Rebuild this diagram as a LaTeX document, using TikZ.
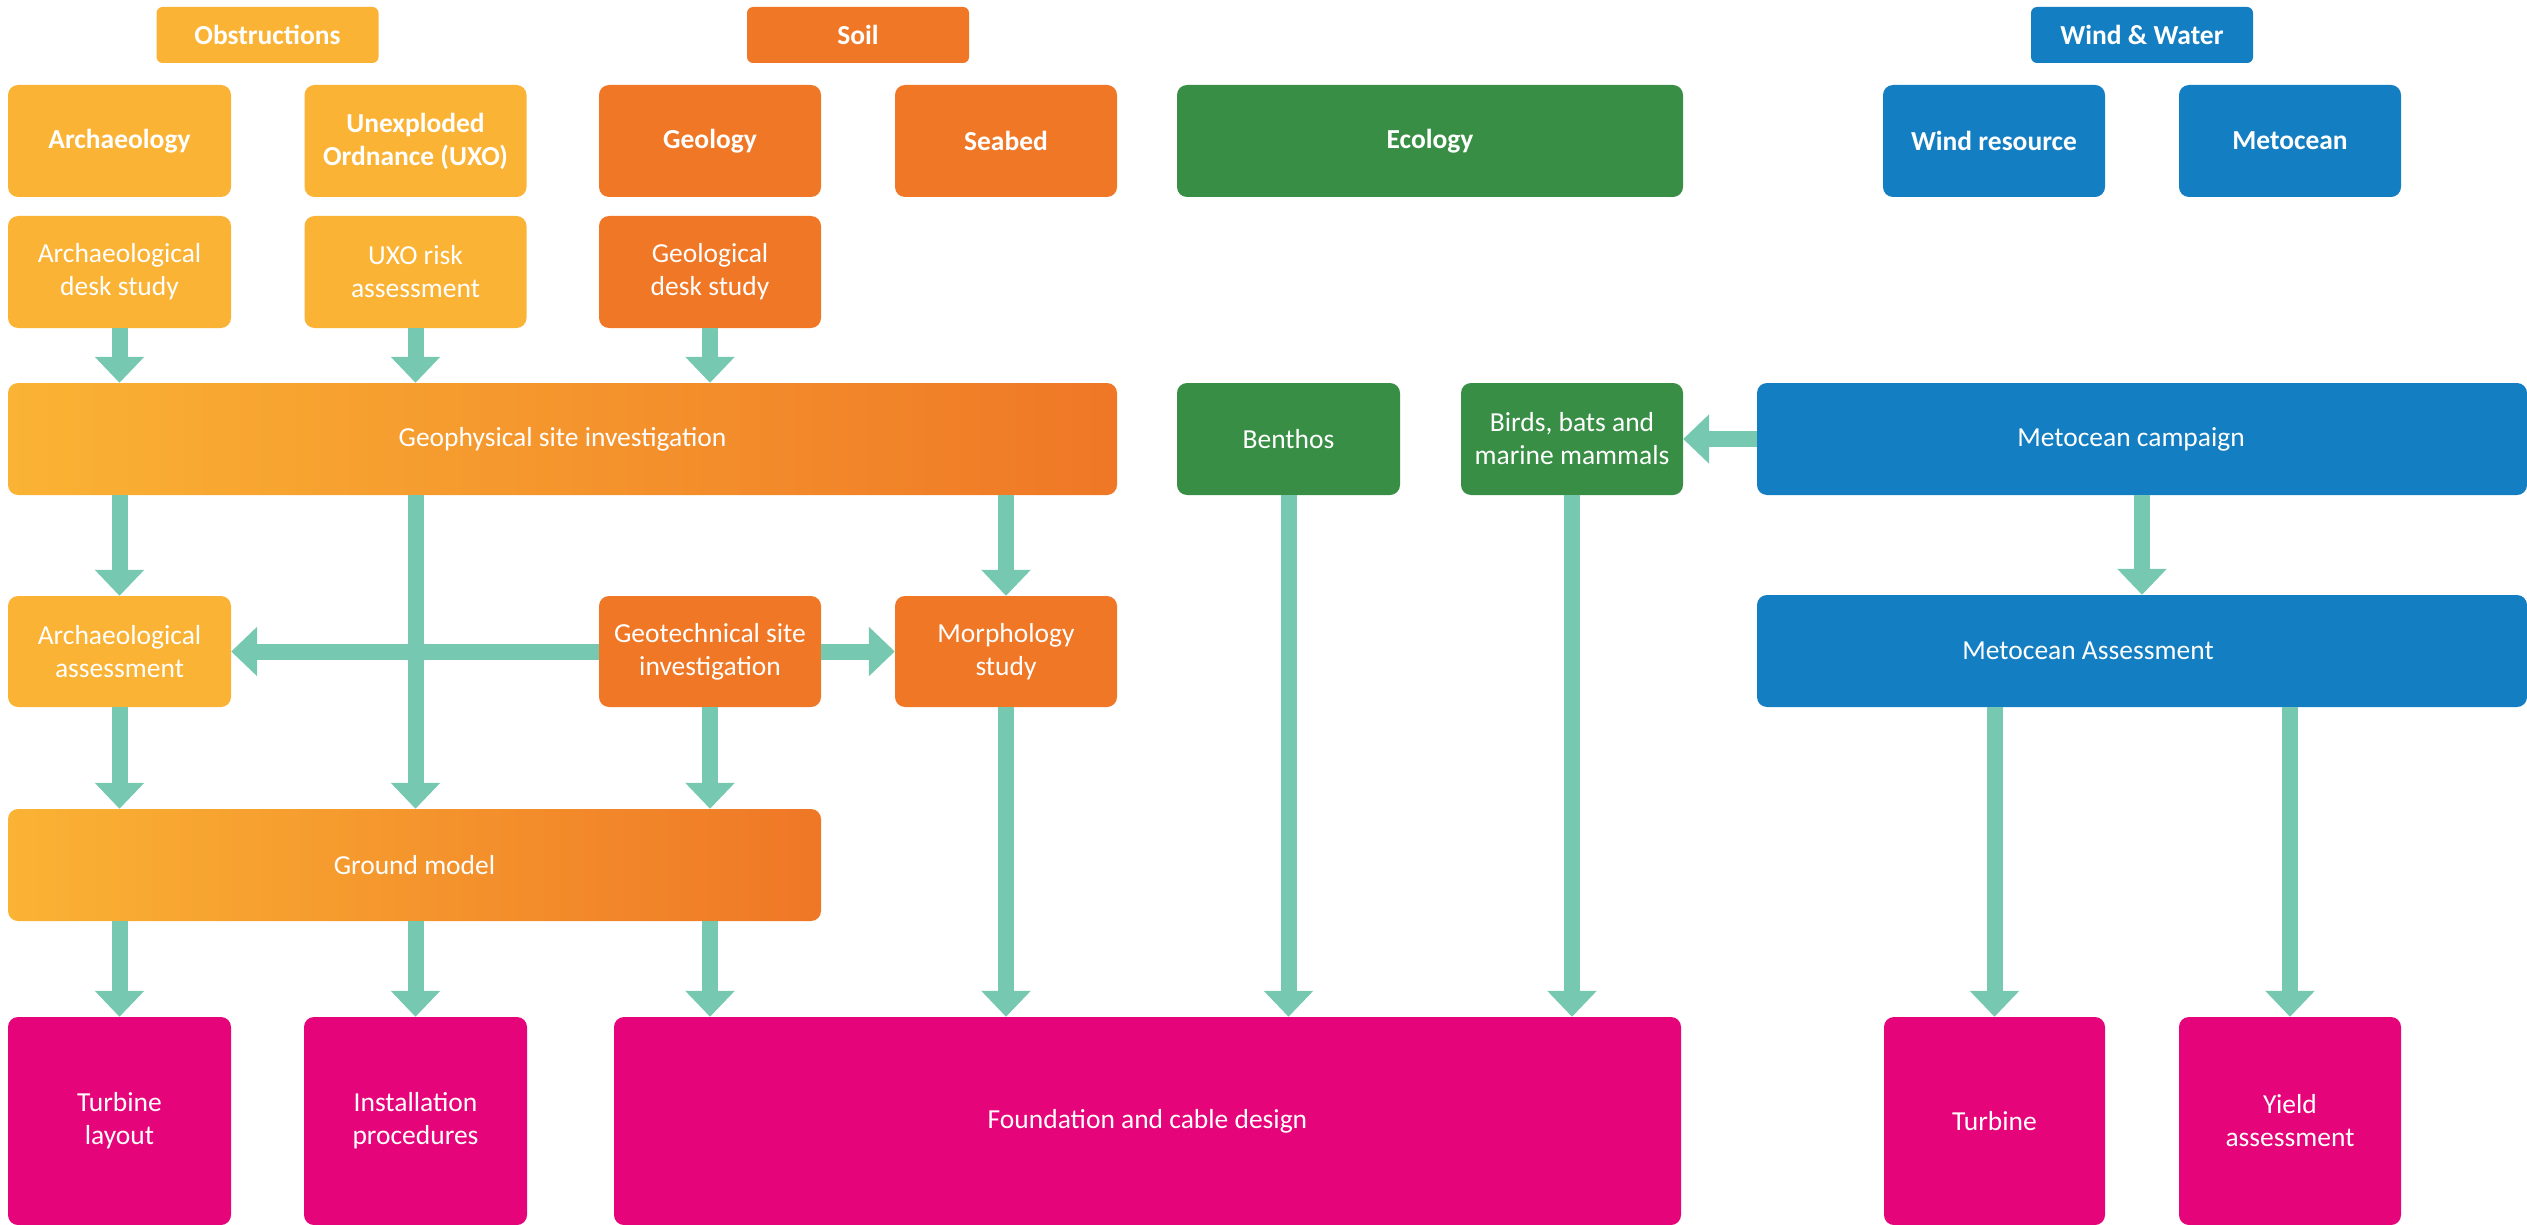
\documentclass[tikz,border=0pt]{standalone}
\usepackage{fontspec}
\setmainfont{Carlito}
\usetikzlibrary{arrows.meta}
\definecolor{ylw}{HTML}{FAB334}
\definecolor{org}{HTML}{EF7726}
\definecolor{grn}{HTML}{398E45}
\definecolor{blu}{HTML}{137EC1}
\definecolor{mag}{HTML}{E5047A}
\definecolor{arr}{HTML}{76C9B0}
\tikzset{
  box/.style={rounded corners=10pt, text=white, align=center, inner sep=0pt,
    font=\fontsize{27.5}{33}\selectfont},
  hbox/.style={box, font=\fontsize{27.5}{33}\selectfont\bfseries},
  cat/.style={hbox, rounded corners=6pt, minimum width=222pt, minimum height=56pt},
  txt/.style={text=white, align=center, inner sep=0pt, font=\fontsize{27.5}{33}\selectfont},
  yb/.style={fill=ylw}, ob/.style={fill=org}, gb/.style={fill=grn},
  bb/.style={fill=blu}, mb/.style={fill=mag},
  grad/.style={left color=ylw, right color=org},
  sz/.style n args={2}{minimum width=#1pt, minimum height=#2pt},
  flow/.style={draw=arr, line width=16pt, -{Triangle[width=48pt,length=26pt]}}
}
\begin{document}
\begin{tikzpicture}[x=1pt,y=-1pt]
\useasboundingbox (0,0) rectangle (2527,1225);
% category headers
\node[cat, yb] (obs) at (267.5,35) {Obstructions};
\node[cat, ob] (soil) at (858,35) {Soil};
\node[cat, bb] (ww) at (2142,35) {Wind \& Water};
% topics
\node[hbox, yb, sz={223}{112}] (arch) at (119.5,141) {Archaeology};
\node[hbox, yb, sz={222}{112}] (uxo) at (415.5,141) {Unexploded\\Ordnance (UXO)};
\node[hbox, ob, sz={222}{112}] (geol) at (710,141) {Geology};
\node[hbox, ob, sz={222}{112}] (seabed) at (1006,141) {Seabed};
\node[hbox, gb, sz={506}{112}] (ecol) at (1430,141) {Ecology};
\node[hbox, bb, sz={222}{112}] (windres) at (1994,141) {Wind resource};
\node[hbox, bb, sz={222}{112}] (metoc) at (2290,141) {Metocean};
% desk studies
\node[box, yb, sz={223}{112}] (ads) at (119.5,272) {Archaeological\\desk study};
\node[box, yb, sz={222}{112}] (uxora) at (415.5,272) {UXO risk\\assessment};
\node[box, ob, sz={222}{112}] (gds) at (710,272) {Geological\\desk study};
% investigations
\node[box, grad, sz={1109}{112}] (geophys) at (562.5,439) {Geophysical site investigation};
\node[box, gb, sz={223}{112}] (benthos) at (1288.5,439) {Benthos};
\node[box, gb, sz={222}{112}] (birds) at (1572,439) {Birds, bats and\\marine mammals};
\node[box, bb, sz={770}{112}] (campaign) at (2142,439) {};
\node[txt] (campaigntxt) at (2131,439) {Metocean campaign};
% assessments
\node[box, yb, sz={223}{111}] (archass) at (119.5,651.5) {Archaeological\\assessment};
\node[box, ob, sz={222}{111}] (geotech) at (710,651.5) {Geotechnical site\\investigation};
\node[box, ob, sz={222}{111}] (morph) at (1006,651.5) {Morphology\\study};
\node[box, bb, sz={770}{112}] (assess) at (2142,651) {};
\node[txt] (assesstxt) at (2088,651) {Metocean Assessment};
% ground model
\node[box, grad, sz={813}{112}] (ground) at (414.5,865) {Ground model};
% outcomes
\node[box, mb, sz={223}{208}] (turbl) at (119.5,1121) {Turbine\\layout};
\node[box, mb, sz={223}{208}] (install) at (415.5,1121) {Installation\\procedures};
\node[box, mb, sz={1067}{208}] (found) at (1147.5,1121) {Foundation and cable design};
\node[box, mb, sz={221}{208}] (turbine) at (1994.5,1121) {Turbine};
\node[box, mb, sz={222}{208}] (yield) at (2290,1121) {Yield\\assessment};
% connectors
\draw[flow] (ads.south) -- (ads.south |- geophys.north);
\draw[flow] (uxora.south) -- (uxora.south |- geophys.north);
\draw[flow] (gds.south) -- (gds.south |- geophys.north);
\draw[flow] (archass.north |- geophys.south) -- (archass.north);
\draw[flow] (install.north |- geophys.south) -- (install.north |- ground.north);
\draw[flow] (morph.north |- geophys.south) -- (morph.north);
\draw[flow] (geotech.west) -- (archass.east);
\draw[flow] (geotech.east) -- (morph.west);
\draw[flow] (archass.south) -- (archass.south |- ground.north);
\draw[flow] (geotech.south) -- (geotech.south |- ground.north);
\draw[flow] (turbl.north |- ground.south) -- (turbl.north);
\draw[flow] (install.north |- ground.south) -- (install.north);
\draw[flow] (geotech.south |- ground.south) -- (geotech.south |- found.north);
\draw[flow] (morph.south) -- (morph.south |- found.north);
\draw[flow] (benthos.south) -- (benthos.south |- found.north);
\draw[flow] (birds.south) -- (birds.south |- found.north);
\draw[flow] (campaign.west) -- (birds.east);
\draw[flow] (campaign.south) -- (assess.north);
\draw[flow] (turbine.north |- assess.south) -- (turbine.north);
\draw[flow] (yield.north |- assess.south) -- (yield.north);
\end{tikzpicture}
\end{document}
